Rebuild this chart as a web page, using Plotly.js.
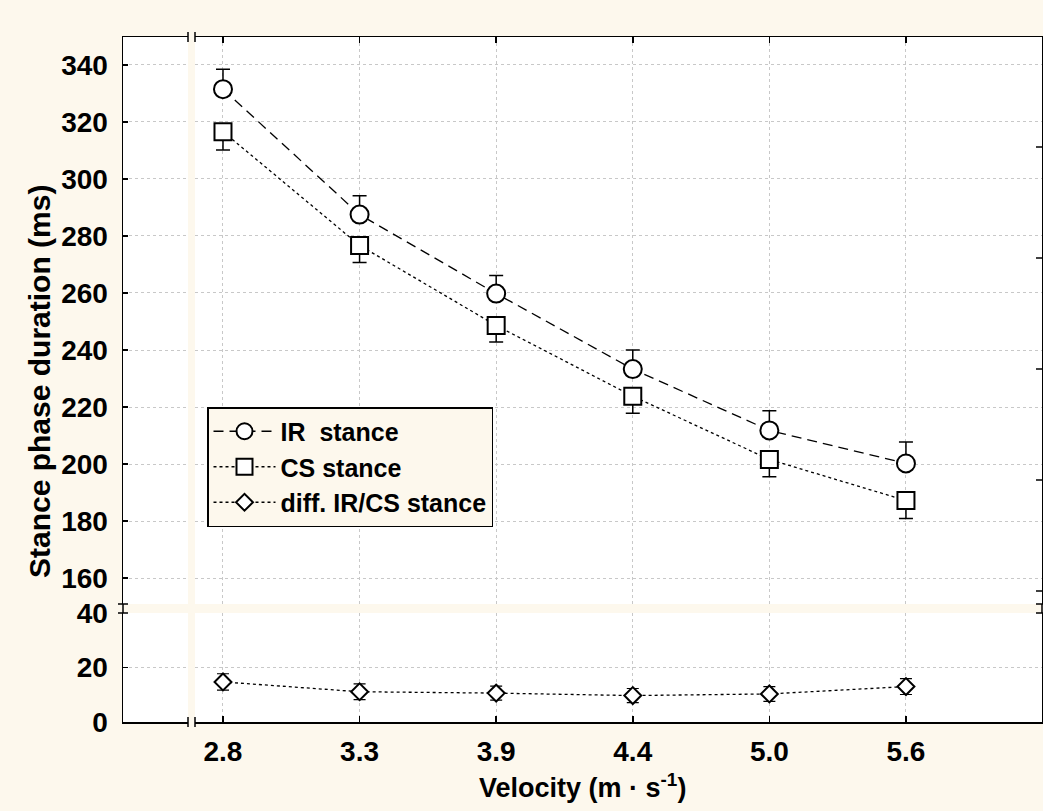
<!DOCTYPE html>
<html>
<head>
<meta charset="utf-8">
<script src="https://cdn.plot.ly/plotly-3.0.1.min.js"></script>
<style>html,body{margin:0;padding:0;background:#fdf8ed;}</style>
</head>
<body>
<div id="chart" style="width:1043px;height:811px;"></div>
<script>
// ---- data ----
const velocityLabels = ['2.8', '3.3', '3.9', '4.4', '5.0', '5.6'];
const irStance   = [331.5, 287.5, 259.8, 233.3, 211.8, 200.2];
const irErr      = [7.0, 6.6, 6.3, 6.7, 6.9, 7.5];
const csStance   = [316.6, 276.7, 248.6, 223.8, 201.6, 187.2];
const csErr      = [6.4, 6.0, 5.8, 6.0, 6.1, 6.3];
const diffStance = [14.7, 11.1, 10.6, 9.7, 10.3, 13.0];
const diffErr    = [3.0, 2.9, 2.6, 2.6, 2.7, 2.9];
const zeros = velocityLabels.map(() => 0);

// ---- geometry helpers (decoration only) ----
const W = 1043, H = 811;
const L = 123, R = 1042, T = 37, B = 722;
const pw = R - L, ph = B - T;
const px = x => (x - L) / pw;
const py = y => (B - y) / ph;
const cream = '#fdf8ed';
const font = {family: 'Liberation Sans, Arial, sans-serif', size: 25, color: '#000', weight: 'bold'};
const tickFont = Object.assign({}, font, {size: 28});
const titleFontY = Object.assign({}, font, {size: 30});
const titleFontX = Object.assign({}, font, {size: 27});

const traces = [
  {
    name: 'IR\u00a0 stance', x: velocityLabels, y: irStance, xaxis: 'x2', yaxis: 'y',
    mode: 'lines+markers',
    line: {color: '#000', width: 1.3, dash: '10px,6px'},
    marker: {symbol: 'circle', size: 18, color: '#fff', line: {color: '#000', width: 2}},
    error_y: {type: 'data', symmetric: false, array: irErr, arrayminus: zeros, color: '#000', thickness: 1.5, width: 7}
  },
  {
    name: 'CS stance', x: velocityLabels, y: csStance, xaxis: 'x2', yaxis: 'y',
    mode: 'lines+markers',
    line: {color: '#000', width: 1.3, dash: 'dot'},
    marker: {symbol: 'square', size: 17, color: '#fff', line: {color: '#000', width: 2}},
    error_y: {type: 'data', symmetric: false, array: zeros, arrayminus: csErr, color: '#000', thickness: 1.5, width: 7}
  },
  {
    name: 'diff. IR/CS stance', x: velocityLabels, y: diffStance, xaxis: 'x', yaxis: 'y2',
    mode: 'lines+markers',
    line: {color: '#000', width: 1.3, dash: 'dot'},
    marker: {symbol: 'diamond', size: 13, color: '#fff', line: {color: '#000', width: 2}},
    error_y: {type: 'data', array: diffErr, color: '#000', thickness: 1.2, width: 6}
  }
];

// decoration shapes
const shapes = [];
shapes.push({type: 'rect', xref: 'paper', yref: 'paper', x0: px(188), x1: px(195), y0: py(B + 3), y1: py(T - 3),
  fillcolor: cream, line: {width: 0}, layer: 'above'});
[L, R].forEach(x => shapes.push({type: 'line', xref: 'paper', yref: 'paper', x0: px(x), x1: px(x), y0: py(613), y1: py(604), line: {color: '#000', width: 1.5}, layer: 'above'}));
[188, 195].forEach(x => {
  shapes.push({type: 'line', xref: 'paper', yref: 'paper', x0: px(x), x1: px(x), y0: py(T + 5), y1: py(T - 5), line: {color: '#000', width: 1.5}, layer: 'above'});
  shapes.push({type: 'line', xref: 'paper', yref: 'paper', x0: px(x), x1: px(x), y0: py(B + 5), y1: py(B - 5), line: {color: '#000', width: 1.5}, layer: 'above'});
});
[604, 613].forEach(y => {
  shapes.push({type: 'line', xref: 'paper', yref: 'paper', x0: px(L - 5), x1: px(L + 5), y0: py(y), y1: py(y), line: {color: '#000', width: 1.5}, layer: 'above'});
  shapes.push({type: 'line', xref: 'paper', yref: 'paper', x0: px(R - 6), x1: px(R + 2), y0: py(y), y1: py(y), line: {color: '#000', width: 1.5}, layer: 'above'});
});
[147, 258, 369, 480, 591].forEach(y => shapes.push({type: 'line', xref: 'paper', yref: 'paper', x0: px(R - 6), x1: px(R), y0: py(y), y1: py(y), line: {color: '#000', width: 1.5}, layer: 'above'}));

const grid = {showgrid: true, gridcolor: '#c8c8c8', griddash: 'dot', gridwidth: 1};

const layout = {
  width: W, height: H,
  paper_bgcolor: cream, plot_bgcolor: '#fff',
  margin: {l: L, r: W - R, t: T, b: H - B},
  font: font,
  showlegend: true,
  xaxis: Object.assign({
    type: 'category', anchor: 'y2', range: [-0.732, 5.996],
    showline: true, linecolor: '#000', linewidth: 1.5, mirror: false,
    ticks: 'inside', ticklen: 6, tickwidth: 1.5, tickcolor: '#000',
    tickfont: tickFont, ticklabelstandoff: 4, zeroline: false
  }, grid),
  xaxis2: Object.assign({
    type: 'category', anchor: 'y', matches: 'x', side: 'top', range: [-0.732, 5.996],
    showline: true, linecolor: '#000', linewidth: 1.5,
    ticks: 'inside', ticklen: 6, tickwidth: 1.5, tickcolor: '#000',
    showticklabels: false, zeroline: false
  }, grid),
  yaxis: Object.assign({
    domain: [py(604), 1], range: [150.9, 349.8], anchor: 'x2',
    tick0: 0, dtick: 20,
    showline: true, linecolor: '#000', linewidth: 1.5, mirror: true,
    ticks: 'inside', ticklen: 5, tickwidth: 1.5, tickcolor: '#000',
    tickfont: tickFont, ticklabelstandoff: 8, zeroline: false
  }, grid),
  yaxis2: Object.assign({
    domain: [0, py(613)], range: [0, 40], anchor: 'x',
    tick0: 0, dtick: 20,
    showline: true, linecolor: '#000', linewidth: 1.5, mirror: true,
    ticks: 'inside', ticklen: 5, tickwidth: 1.5, tickcolor: '#000',
    tickfont: tickFont, ticklabelstandoff: 8, zeroline: false
  }, grid),
  legend: {
    x: px(207), y: py(407), xanchor: 'left', yanchor: 'top',
    bgcolor: cream, bordercolor: '#000', borderwidth: 1.5,
    font: font, itemwidth: 62, tracegroupgap: 0
  },
  shapes: shapes,
  annotations: [
    {text: 'Stance phase duration (ms)', xref: 'paper', yref: 'paper', x: px(40), y: py(382),
     xanchor: 'center', yanchor: 'middle', textangle: -90, showarrow: false, font: titleFontY},
    {text: 'Velocity (m \u00b7 s<sup>-1</sup>)', xref: 'paper', yref: 'paper', x: px(582), y: py(786),
     xanchor: 'center', yanchor: 'middle', showarrow: false, font: titleFontX}
  ]
};

Plotly.newPlot('chart', traces, layout, {displayModeBar: false, staticPlot: true});
</script>
</body>
</html>
